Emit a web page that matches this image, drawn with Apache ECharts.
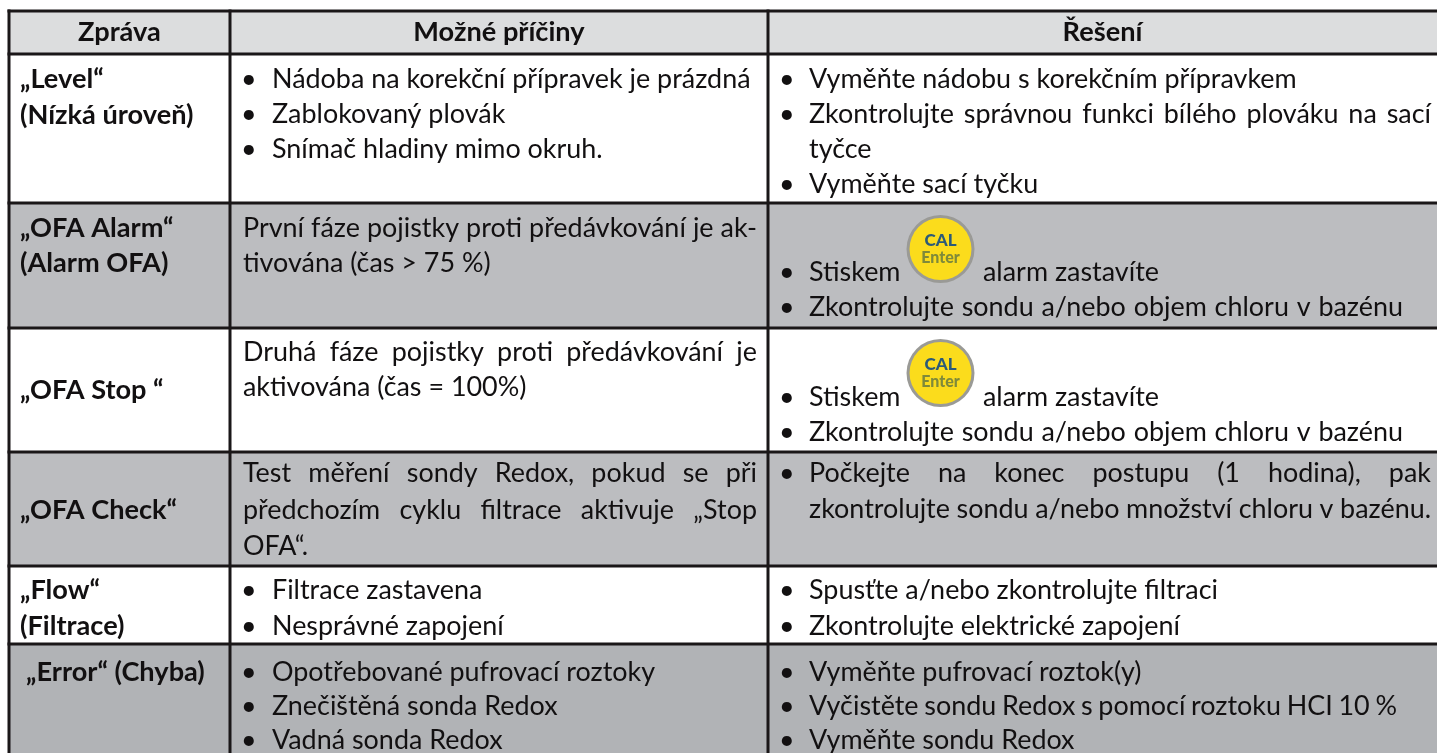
<!DOCTYPE html>
<html><head><meta charset="utf-8">
<style>html,body{margin:0;padding:0;background:#fff}#c{width:1437px;height:753px}</style>
<script src="https://cdn.jsdelivr.net/npm/echarts@6/dist/echarts.min.js"></script>
</head><body><div id="c"></div>
<script>
// ---- table content ----
const headers = ['Zpráva', 'Možné příčiny', 'Řešení'];
const messages = [
  ['„Level“', '(Nízká úroveň)'],
  ['„OFA Alarm“', '(Alarm OFA)'],
  ['„OFA Stop “'],
  ['„OFA Check“'],
  ['„Flow“', '(Filtrace)'],
  ['„Error“ (Chyba)']
];
const causes = [
  [['b', 'Nádoba na korekční přípravek je prázdná'], ['b', 'Zablokovaný plovák'], ['b', 'Snímač hladiny mimo okruh.']],
  [['j', 'První fáze pojistky proti předávkování je ak-'], ['p', 'tivována (čas > 75 %)']],
  [['j', 'Druhá fáze pojistky proti předávkování je'], ['p', 'aktivována (čas = 100%)']],
  [['j', 'Test měření sondy Redox, pokud se při'], ['j', 'předchozím cyklu filtrace aktivuje „Stop'], ['p', 'OFA“.']],
  [['b', 'Filtrace zastavena'], ['b', 'Nesprávné zapojení']],
  [['b', 'Opotřebované pufrovací roztoky'], ['b', 'Znečištěná sonda Redox'], ['b', 'Vadná sonda Redox']]
];
const solutions = [
  [['b', 'Vyměňte nádobu s korekčním přípravkem'], ['bj', 'Zkontrolujte správnou funkci bílého plováku na sací'], ['i', 'tyčce'], ['b', 'Vyměňte sací tyčku']],
  [['b', 'Stiskem'], ['bj', 'Zkontrolujte sondu a/nebo objem chloru v bazénu', 1403]],
  [['b', 'Stiskem'], ['bj', 'Zkontrolujte sondu a/nebo objem chloru v bazénu', 1403]],
  [['bj', 'Počkejte na konec postupu (1 hodina), pak'], ['ij', 'zkontrolujte sondu a/nebo množství chloru v bazénu.']],
  [['b', 'Spusťte a/nebo zkontrolujte filtraci'], ['b', 'Zkontrolujte elektrické zapojení']],
  [['b', 'Vyměňte pufrovací roztok(y)'], ['bj', 'Vyčistěte sondu Redox s pomocí roztoku HCI 10 %', 1397], ['b', 'Vyměňte sondu Redox']]
];
const alarmTail = 'alarm zastavíte';
const iconLabels = ['CAL', 'Enter'];

// ---- table geometry (axis units = px) ----
const colEdges = [9, 230, 768, 1437];
const rowEdges = [11, 54, 203, 328, 452, 566, 644, 753];
const rowFills = ['#dcddde', '#ffffff', '#bcbdc0', '#ffffff', '#bcbdc0', '#ffffff', '#b1b3b6'];
const headerY = 33;
const messageY = [[79.5, 115.5], [229, 264], [391], [510.5], [591, 627], [673]];
const causeY = [[79.5, 115, 150], [229, 264], [353, 388], [474, 510.5, 546.5], [591, 626.5], [672.5, 707, 740.5]];
const solutionY = [[79.5, 115, 150, 185], [273, 308], [398, 432.5], [474, 509.5], [591, 626.5], [672.5, 707, 740.5]];
const iconY = [249, 373];
const iconX = 940.5;
const FONT = 'Lato';
const FS = 26, SX = 1.035, SXB = 1.045;

const cv = document.createElement('canvas').getContext('2d');
function width(t) { cv.font = FS + 'px ' + FONT; return cv.measureText(t).width * SX; }

const textItems = [];  // [x, y, text, bold, centered]
headers.forEach((h, i) => textItems.push([(colEdges[i] + colEdges[i + 1]) / 2, headerY, h, 1, 1]));
messages.forEach((lines, r) => lines.forEach((t, l) => {
  textItems.push([r === 5 ? 26 : 20, messageY[r][l], t, 1, 0]);
}));

function addBody(lines, ys, xBullet, xText, xPlain, xEnd) {
  lines.forEach((row, l) => {
    const kind = row[0], t = row[1], y = ys[l];
    let x = kind === 'p' || kind === 'j' ? xPlain : xText;
    if (kind[0] === 'b') textItems.push([xBullet, y, '•', 0, 0]);
    if (kind[kind.length - 1] === 'j') {
      const end = row[2] || xEnd;
      const words = t.split(' ');
      const w = words.map(width);
      const gap = (end - x - w.reduce((a, b) => a + b, 0)) / (words.length - 1);
      words.forEach((v, i) => { textItems.push([x, y, v, 0, 0]); x += w[i] + gap; });
    } else {
      textItems.push([x, y, t, 0, 0]);
    }
  });
}
causes.forEach((c, r) => addBody(c, causeY[r], 241, 272, 243, 757));
solutions.forEach((c, r) => addBody(c, solutionY[r], 779, 809, 785, 1431));
iconY.forEach((y, i) => textItems.push([983, solutionY[i + 1][0], alarmTail, 0, 0]));

const cellData = rowFills.map((f, r) => [colEdges[0], rowEdges[r], colEdges[3], rowEdges[r + 1], f]);
const hLines = rowEdges.slice(0, -1).map(y => [colEdges[0], y, colEdges[3], y]);
const vLines = colEdges.slice(0, -1).map(x => [x, rowEdges[0], x, rowEdges[7]]);

const option = {
  animation: false,
  grid: { left: 0, right: 0, top: 0, bottom: 0 },
  xAxis: { type: 'value', min: 0, max: 1437, show: false },
  yAxis: { type: 'value', min: 0, max: 753, inverse: true, show: false },
  series: [
    { type: 'custom', coordinateSystem: 'cartesian2d', silent: true, z: 1,
      data: cellData, encode: { x: [0, 2], y: [1, 3] },
      renderItem(p, api) {
        const a = api.coord([api.value(0), api.value(1)]), b = api.coord([api.value(2), api.value(3)]);
        return { type: 'rect', shape: { x: a[0], y: a[1], width: b[0] - a[0], height: b[1] - a[1] },
                 style: { fill: cellData[p.dataIndex][4] } };
      } },
    { type: 'custom', coordinateSystem: 'cartesian2d', silent: true, z: 2,
      data: hLines.concat(vLines), encode: { x: [0, 2], y: [1, 3] },
      renderItem(p, api) {
        const a = api.coord([api.value(0), api.value(1)]), b = api.coord([api.value(2), api.value(3)]);
        return { type: 'line', shape: { x1: a[0], y1: a[1], x2: b[0], y2: b[1] },
                 style: { stroke: '#1a1718', lineWidth: 3, lineCap: 'square' } };
      } },
    { type: 'custom', coordinateSystem: 'cartesian2d', silent: true, z: 3,
      data: iconY.map(y => [iconX, y]), encode: { x: 0, y: 1 },
      renderItem(p, api) {
        const c = api.coord([api.value(0), api.value(1)]);
        const txt = (s, dy, fs, col) => ({ type: 'text', x: c[0], y: c[1] + dy,
          style: { text: s, fontFamily: FONT, fontWeight: 900, fontSize: fs, fill: col, align: 'center', verticalAlign: 'middle' } });
        return { type: 'group', children: [
          { type: 'circle', shape: { cx: c[0], cy: c[1], r: 34 }, style: { fill: '#9a9a96' } },
          { type: 'circle', shape: { cx: c[0], cy: c[1], r: 31 }, style: { fill: '#fbdc1c' } },
          txt(iconLabels[0], -8, 17, '#2b5a78'),
          txt(iconLabels[1], 9, 16, '#7f8a3a')
        ] };
      } },
    { type: 'custom', coordinateSystem: 'cartesian2d', silent: true, z: 4,
      data: textItems.map(t => [t[0], t[1]]), encode: { x: 0, y: 1 },
      renderItem(p, api) {
        const it = textItems[p.dataIndex], c = api.coord([api.value(0), api.value(1)]);
        return { type: 'text', x: c[0], y: c[1], scaleX: it[3] ? SXB : SX,
          style: { text: it[2], fontFamily: FONT, fontSize: FS, fontWeight: it[3] ? 'bold' : 'normal',
                   fill: '#121011', align: it[4] ? 'center' : 'left', verticalAlign: 'middle' } };
      } }
  ]
};
const chart = echarts.init(document.getElementById('c'), null, { renderer: 'canvas' });
chart.setOption(option);
</script></body></html>
